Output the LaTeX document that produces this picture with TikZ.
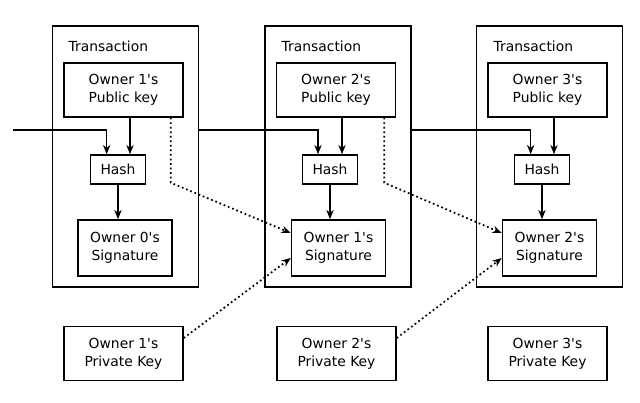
\documentclass[tikz,border=0pt]{standalone}
\usepackage{fontspec}
\newfontfamily\dejavu{DejaVu Sans}
\usetikzlibrary{arrows.meta}

\tikzset{every picture/.style={line width=1.1pt}}
\tikzset{
  box/.style={draw, inner sep=0pt, align=center, font=\dejavu\fontsize{10.4}{13.5}\selectfont},
  txbox/.style={box, minimum width=109.5pt, minimum height=195.75pt},
  keybox/.style={box, minimum width=89.25pt, minimum height=40.5pt},
  hashbox/.style={box, minimum width=41.25pt, minimum height=21.75pt},
  sigbox/.style={box, minimum width=70.5pt, minimum height=42pt},
  lbl/.style={inner sep=0pt, anchor=west, font=\dejavu\fontsize{10.4}{13.5}\selectfont},
  arr/.style={-{Stealth[length=7pt,width=5.5pt]}},
  sigline/.style={arr, line width=1.3pt, dash pattern={on 1.3pt off 2.1pt}},
}

\begin{document}
\begin{tikzpicture}[x=0.75pt,y=0.75pt,yscale=-1,xscale=1]
\useasboundingbox (0,0) rectangle (640,403);

%Shape: Rectangle (transactions)
\draw (125.5,156.5) node (tx1) [txbox] {};
\draw (338,156.5) node (tx2) [txbox] {};
\draw (549.5,156.5) node (tx3) [txbox] {};

% Text Node
\draw (68,46) node (t1) [lbl] {Transaction};
% Text Node
\draw (281,46) node (t2) [lbl] {Transaction};
% Text Node
\draw (493,46) node (t3) [lbl] {Transaction};

%Shape: Rectangle (public keys)
\draw (123.5,90) node (pk1) [keybox] {Owner 1's\\Public key};
\draw (336,90) node (pk2) [keybox] {Owner 2's\\Public key};
\draw (547.5,90) node (pk3) [keybox] {Owner 3's\\Public key};

%Shape: Rectangle (hashes)
\draw (118,169.5) node (h1) [hashbox] {Hash};
\draw (330,169.5) node (h2) [hashbox] {Hash};
\draw (542,169.5) node (h3) [hashbox] {Hash};

%Shape: Rectangle (signatures)
\draw (125,248) node (s0) [sigbox] {Owner 0's\\Signature};
\draw (338.5,248) node (s1) [sigbox] {Owner 1's\\Signature};
\draw (549.5,248) node (s2) [sigbox] {Owner 2's\\Signature};

%Shape: Rectangle (private keys)
\draw (123.5,353.5) node (k1) [keybox] {Owner 1's\\Private Key};
\draw (336.5,353.5) node (k2) [keybox] {Owner 2's\\Private Key};
\draw (547.5,353.5) node (k3) [keybox] {Owner 3's\\Private Key};

% hash inputs
\coordinate (in) at (13,130);
\coordinate (h1a) at ([xshift=9pt]h1.north);
\coordinate (h1b) at ([xshift=-8.5pt]h1.north);
\coordinate (h2a) at ([xshift=9pt]h2.north);
\coordinate (h2b) at ([xshift=-9pt]h2.north);
\coordinate (h3a) at ([xshift=9pt]h3.north);
\coordinate (h3b) at ([xshift=-8.5pt]h3.north);

\draw [arr] (in) -| (h1b);
\draw [arr] (tx1.east |- in) -| (h2b);
\draw [arr] (tx2.east |- in) -| (h3b);
\draw [arr] (pk1.south -| h1a) -- (h1a);
\draw [arr] (pk2.south -| h2a) -- (h2a);
\draw [arr] (pk3.south -| h3a) -- (h3a);
\draw [arr] (h1.south) -- (h1.south |- s0.north);
\draw [arr] (h2.south) -- (h2.south |- s1.north);
\draw [arr] (h3.south) -- (h3.south |- s2.north);

% signing (dotted); yshift runs downwards here (yscale=-1)
\coordinate (p1) at ([xshift=-9.75pt]pk1.south east);
\coordinate (p2) at ([xshift=-9pt]pk2.south east);
\draw [sigline] (p1) -- ([yshift=-1.5pt]p1 |- h1.south) -- ([yshift=-11.25pt]s1.west);
\draw [sigline] (p2) -- ([yshift=-1.5pt]p2 |- h2.south) -- ([yshift=-11.25pt]s2.west);
\draw [sigline] ([yshift=-11.6pt]k1.east) -- ([yshift=7.5pt]s1.west);
\draw [sigline] ([yshift=-11.6pt]k2.east) -- ([yshift=7.5pt]s2.west);

\end{tikzpicture}
\end{document}
